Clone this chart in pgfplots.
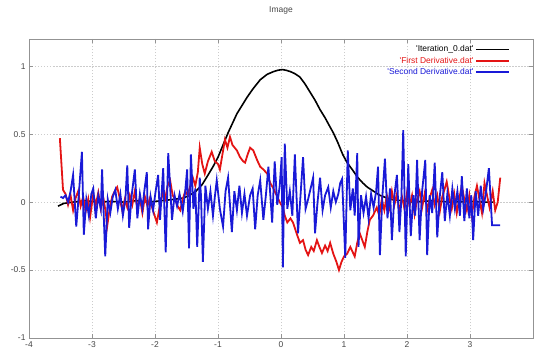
\documentclass[border=0pt]{standalone}
\usepackage{pgfplots}
\pgfplotsset{compat=1.18}
\usepackage{fontspec}
\setmainfont{Liberation Sans}
\definecolor{gpred}{RGB}{228,20,20}
\definecolor{gpblue}{RGB}{25,25,215}
\definecolor{gptext}{RGB}{70,70,70}
\begin{document}
\begin{tikzpicture}
\begin{axis}[
 scale only axis, width=504bp, height=299bp,
 xmin=-4, xmax=4, ymin=-1, ymax=1.2,
 xtick={-4,-3,-2,-1,0,1,2,3,4}, xticklabels={-4,-3,-2,-1,0,1,2,3,{}},
 ytick={-1,-0.5,0,0.5,1}, yticklabels={-1,-0.5,0,0.5,1},
 tick align=inside, major tick length=4bp,
 axis line style={gray!85, line width=0.8bp},
 tick style={gray!85, line width=0.6bp},
 grid=major,
 major grid style={gray!40, dash pattern=on 1.5bp off 1.5bp, line width=0.5bp},
 ticklabel style={font=\fontsize{8.5}{10}\selectfont, text=gptext},
 title={Image},
 title style={font=\fontsize{8.5}{10}\selectfont, text=gptext, at={(0.5,1)}, anchor=center, yshift=23bp},
 legend style={draw=none, fill=none, at={(1,1)}, anchor=north east, xshift=-20bp, yshift=-3bp,
   font=\fontsize{8.5}{10}\selectfont, row sep=0.6bp, nodes={inner sep=1.5bp}},
 legend cell align=right, legend plot pos=right,
 legend image code/.code={\draw[#1] (5bp,0bp) -- (38bp,0bp);},
]
\addplot[black, line width=1.6bp] coordinates {
(-3.54,-0.03) (-3.45,-0.01) (-3.3,0.0) (-3.1,0.01) (-2.9,0.0) (-2.7,0.005) (-2.5,0.0) (-2.3,0.01)
(-2.1,0.0) (-1.9,0.01) (-1.7,0.02) (-1.55,0.03) (-1.45,0.05) (-1.35,0.08) (-1.25,0.13) (-1.17,0.19)
(-1.08,0.26) (-1.0,0.33) (-0.92,0.42) (-0.84,0.51) (-0.77,0.58) (-0.70,0.65) (-0.62,0.71) (-0.54,0.77)
(-0.45,0.83) (-0.33,0.90) (-0.22,0.94) (-0.12,0.96) (-0.05,0.97) (0.02,0.975) (0.08,0.97) (0.15,0.96)
(0.22,0.945) (0.30,0.92) (0.38,0.87) (0.46,0.81) (0.54,0.75) (0.62,0.68) (0.70,0.62) (0.77,0.56)
(0.83,0.51) (0.90,0.44) (0.98,0.35) (1.05,0.29) (1.13,0.24) (1.22,0.18) (1.30,0.14) (1.37,0.11)
(1.47,0.08) (1.57,0.05) (1.68,0.03) (1.8,0.015) (1.95,0.01) (2.1,0.0) (2.4,0.01) (2.7,0.0)
(3.0,0.005) (3.2,0.0) (3.37,0.0)
};
\addlegendentry{\textcolor{black}{\textquotesingle Iteration\_0.dat\textquotesingle}}
\addplot[gpred, line width=1.8bp] coordinates {
(-3.51,0.47) (-3.46,0.09) (-3.42,0.06) (-3.38,-0.02) (-3.34,0.05) (-3.30,-0.06) (-3.26,0.03) (-3.22,0.08)
(-3.18,-0.03) (-3.14,0.04) (-3.10,-0.07) (-3.06,0.02) (-3.03,-0.11) (-2.98,0.06) (-2.94,-0.02) (-2.90,0.07)
(-2.86,-0.05) (-2.82,0.03) (-2.78,-0.08) (-2.76,-0.18) (-2.72,-0.05) (-2.68,0.04) (-2.64,0.08) (-2.60,0.11)
(-2.56,0.03) (-2.52,-0.06) (-2.48,0.02) (-2.44,-0.04) (-2.40,0.05) (-2.36,-0.02) (-2.32,0.08) (-2.28,-0.05)
(-2.24,0.03) (-2.20,-0.08) (-2.16,0.04) (-2.12,-0.03) (-2.08,0.03) (-2.04,-0.05) (-1.97,-0.15) (-1.92,-0.02)
(-1.88,0.06) (-1.84,0.02) (-1.80,0.12) (-1.76,0.16) (-1.72,0.05) (-1.68,0.02) (-1.64,-0.03) (-1.60,-0.06)
(-1.56,0.02) (-1.52,0.08) (-1.48,0.05) (-1.44,0.12) (-1.40,0.18) (-1.36,0.12) (-1.32,0.22) (-1.29,0.40)
(-1.25,0.28) (-1.21,0.21) (-1.16,0.30) (-1.10,0.37) (-1.05,0.30) (-1.00,0.28) (-0.97,0.24) (-0.93,0.35)
(-0.89,0.46) (-0.85,0.40) (-0.81,0.48) (-0.77,0.42) (-0.70,0.38) (-0.65,0.33) (-0.60,0.30) (-0.57,0.29)
(-0.53,0.35) (-0.49,0.40) (-0.44,0.38) (-0.38,0.31) (-0.33,0.26) (-0.28,0.24) (-0.22,0.21) (-0.17,0.14)
(-0.12,0.10) (-0.06,0.04) (-0.02,0.00) (0.03,-0.04) (0.06,-0.10) (0.10,-0.15) (0.15,-0.12) (0.19,-0.15)
(0.24,-0.22) (0.30,-0.30) (0.35,-0.28) (0.39,-0.35) (0.43,-0.39) (0.48,-0.33) (0.52,-0.36) (0.57,-0.28)
(0.61,-0.33) (0.65,-0.375) (0.70,-0.32) (0.74,-0.36) (0.78,-0.30) (0.83,-0.38) (0.88,-0.44) (0.92,-0.50)
(0.96,-0.44) (1.00,-0.40) (1.05,-0.38) (1.10,-0.33) (1.17,-0.40) (1.21,-0.30) (1.25,-0.23) (1.29,-0.28)
(1.33,-0.33) (1.37,-0.22) (1.41,-0.13) (1.46,-0.10) (1.52,-0.04) (1.56,-0.10) (1.60,0.02) (1.64,-0.06)
(1.68,0.05) (1.72,-0.04) (1.76,0.08) (1.80,-0.02) (1.84,0.06) (1.88,-0.08) (1.92,0.04) (1.96,-0.05)
(2.00,0.07) (2.04,-0.03) (2.08,0.05) (2.12,-0.09) (2.16,0.02) (2.20,0.08) (2.24,-0.04) (2.28,0.06)
(2.32,-0.06) (2.36,0.03) (2.40,0.09) (2.44,-0.02) (2.48,0.05) (2.52,-0.07) (2.56,0.04) (2.60,0.10)
(2.63,0.15) (2.67,0.04) (2.71,-0.05) (2.75,0.06) (2.79,-0.08) (2.83,0.03) (2.87,0.12) (2.91,0.02)
(2.95,-0.06) (2.99,0.05) (3.03,-0.10) (3.07,0.04) (3.11,0.12) (3.15,0.02) (3.19,-0.08) (3.23,0.14)
(3.27,0.05) (3.31,-0.04) (3.36,0.08) (3.40,-0.06) (3.44,0.00) (3.48,0.18)
};
\addlegendentry{\textcolor{gpred}{\textquotesingle First Derivative.dat\textquotesingle}}
\addplot[gpblue, line width=1.8bp] coordinates {
(-3.50,0.04) (-3.46,0.03) (-3.42,0.05) (-3.38,0.00) (-3.34,0.08) (-3.30,0.20) (-3.25,-0.18) (-3.21,0.05)
(-3.16,0.37) (-3.13,-0.24) (-3.09,0.02) (-3.05,-0.10) (-3.01,0.06) (-2.98,0.10) (-2.94,-0.12) (-2.90,0.05)
(-2.86,-0.05) (-2.84,0.24) (-2.79,-0.40) (-2.75,0.02) (-2.71,-0.08) (-2.67,0.04) (-2.63,0.09) (-2.59,-0.05)
(-2.55,0.06) (-2.51,-0.10) (-2.47,0.02) (-2.44,0.27) (-2.41,-0.19) (-2.37,0.05) (-2.32,0.24) (-2.28,-0.12)
(-2.24,0.06) (-2.20,-0.05) (-2.17,0.08) (-2.13,0.22) (-2.11,-0.20) (-2.07,0.04) (-2.03,-0.06) (-1.99,0.08)
(-1.95,0.20) (-1.92,-0.13) (-1.87,0.25) (-1.83,-0.37) (-1.79,0.36) (-1.73,-0.13) (-1.69,0.05) (-1.65,-0.03)
(-1.61,0.06) (-1.56,-0.07) (-1.52,0.08) (-1.49,0.24) (-1.46,-0.34) (-1.43,0.35) (-1.39,-0.05) (-1.36,0.10)
(-1.33,-0.33) (-1.29,0.18) (-1.27,0.05) (-1.24,-0.44) (-1.20,0.12) (-1.16,-0.05) (-1.12,0.08) (-1.08,-0.10)
(-1.05,0.04) (-1.02,0.16) (-0.97,-0.05) (-0.92,-0.18) (-0.88,0.08) (-0.84,0.18) (-0.78,-0.22) (-0.74,0.08)
(-0.70,-0.06) (-0.66,0.12) (-0.62,-0.08) (-0.58,0.06) (-0.54,-0.10) (-0.49,0.05) (-0.45,0.10) (-0.41,-0.20)
(-0.37,0.05) (-0.33,0.16) (-0.28,-0.13) (-0.24,0.05) (-0.20,0.26) (-0.14,-0.15) (-0.10,0.30) (-0.06,-0.02)
(-0.02,0.12) (0.01,0.33) (0.03,-0.48) (0.06,0.43) (0.10,-0.05) (0.14,0.08) (0.18,-0.10) (0.22,0.35)
(0.27,-0.23) (0.31,0.05) (0.35,0.33) (0.39,-0.05) (0.43,0.02) (0.47,0.10) (0.51,0.18) (0.54,-0.23)
(0.58,0.00) (0.62,0.18) (0.66,-0.06) (0.70,0.05) (0.75,0.11) (0.79,-0.04) (0.83,0.08) (0.87,0.00)
(0.91,0.06) (0.94,0.14) (0.97,0.17) (1.02,-0.41) (1.06,0.38) (1.10,-0.06) (1.14,0.10) (1.17,-0.10)
(1.21,0.36) (1.23,-0.33) (1.27,0.05) (1.31,-0.08) (1.35,0.04) (1.39,-0.12) (1.43,0.06) (1.47,-0.04)
(1.51,0.08) (1.54,0.26) (1.57,-0.39) (1.61,0.05) (1.65,0.32) (1.69,-0.12) (1.73,0.10) (1.76,-0.28)
(1.80,0.05) (1.84,0.20) (1.88,-0.22) (1.91,0.02) (1.94,0.53) (1.98,-0.40) (2.02,0.28) (2.06,-0.25)
(2.10,0.05) (2.13,-0.10) (2.16,0.31) (2.20,-0.28) (2.24,0.08) (2.29,0.31) (2.32,-0.39) (2.36,0.05)
(2.40,-0.08) (2.44,0.29) (2.48,-0.26) (2.52,0.04) (2.56,0.22) (2.60,-0.14) (2.64,0.06) (2.68,-0.10)
(2.72,0.10) (2.76,-0.05) (2.80,0.08) (2.84,-0.10) (2.87,0.19) (2.91,-0.14) (2.95,0.10) (2.99,-0.12)
(3.02,0.05) (3.05,-0.28) (3.09,0.08) (3.13,-0.10) (3.17,0.12) (3.21,-0.05) (3.25,0.06) (3.30,0.25)
(3.35,-0.17) (3.48,-0.17)
};
\addlegendentry{\textcolor{gpblue}{\textquotesingle Second Derivative.dat\textquotesingle}}
\end{axis}
\pgfresetboundingbox
\path[use as bounding box] ([shift={(-29bp,-18bp)}]current axis.south west) rectangle ([shift={(1bp,39bp)}]current axis.north east);
\end{tikzpicture}
\end{document}
